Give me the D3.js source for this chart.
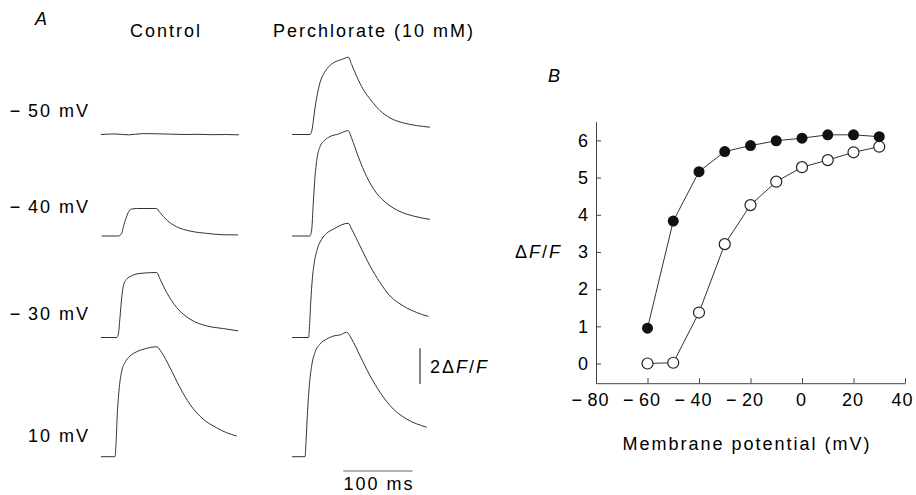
<!DOCTYPE html>
<html>
<head>
<meta charset="utf-8">
<script src="https://cdn.jsdelivr.net/npm/d3@7"></script>
<style>
  body { margin: 0; background: #fff; }
  svg { display: block; font-family: "Liberation Sans", Arial, sans-serif; }
  svg text { letter-spacing: 2px; fill: #000; }
  .axis path, .axis line { stroke: #444; stroke-width: 1; }
  .axis text { font-size: 18px; fill: #000; font-family: "Liberation Sans", Arial, sans-serif; letter-spacing: 1px; }
</style>
</head>
<body>
<div id="chart"></div>
<script>
var w = 916;
var h = 495;

// Panel B: peak dF/F vs membrane potential
var voltages = [-60, -50, -40, -30, -20, -10, 0, 10, 20, 30];
var perchlorateDF = [0.95, 3.83, 5.16, 5.70, 5.86, 5.99, 6.06, 6.15, 6.15, 6.10];
var controlDF = [0.0, 0.02, 1.37, 3.21, 4.26, 4.89, 5.28, 5.47, 5.68, 5.83];
var xTicks = [-80, -60, -40, -20, 0, 20, 40];
var yTicks = [0, 1, 2, 3, 4, 5, 6];

// Panel A: fluorescence traces, [time (ms), dF/F]
var rowLabels = ["\u2212\u200950 mV", "\u2212\u200940 mV", "\u2212\u200930 mV", "10 mV"];
var controlTraces = [
  [[0,0],[20,0.03],[40,-0.02],[60,0.05],[80,0.04],[100,0.02],[120,0],[140,0.01],[160,-0.01],[180,0],[199,-0.02]],
  [[1,0],[25,0],[30,0.15],[32.3,0.52],[36.1,0.99],[39.4,1.32],[44.2,1.51],[51.4,1.54],[80.2,1.54],[85,1.32],[94.7,0.9],[109,0.52],[128.3,0.28],[152.4,0.15],[176.3,0.07],[198,0.06]],
  [[0,0],[22.7,0],[25,0.19],[27.4,1.12],[29.9,2.24],[32.3,2.9],[37.1,3.27],[44.3,3.46],[56.3,3.59],[80.4,3.64],[85.2,3.27],[94.8,2.52],[109.2,1.68],[128.4,1.03],[152.5,0.65],[176.5,0.5],[198.1,0.37]],
  [[0,0],[20.2,0],[21.6,0.69],[23.5,2.37],[26.4,3.87],[29.9,4.8],[34.6,5.27],[41.8,5.64],[51.5,5.88],[65.9,6.07],[80.4,6.16],[87.6,5.83],[99.6,4.99],[114,3.87],[128.4,2.93],[147.6,2.1],[166.9,1.62],[181.4,1.34],[195.8,1.16]]
];
var perchlorateTraces = [
  [[0,0],[25.9,0],[28.4,0.18],[30.7,0.74],[33.2,1.5],[36.5,2.24],[40.4,2.9],[45.2,3.36],[52.4,3.77],[62.1,4.07],[71.7,4.2],[81.3,4.33],[86.1,3.92],[93.3,3.26],[102.9,2.52],[115,1.87],[127,1.34],[141.4,0.93],[160.6,0.65],[179.9,0.5],[199.1,0.41]],
  [[0,0],[25.9,0],[28.4,0.34],[30.7,1.83],[33.2,3.32],[36.5,4.44],[40.4,5.0],[47.6,5.38],[54.8,5.57],[66.8,5.71],[81.2,5.9],[86.1,5.47],[95.7,4.44],[107.8,3.32],[122.2,2.39],[136.7,1.83],[155.8,1.37],[175.1,1.12],[199.1,0.93]],
  [[0,0],[24,0],[25,0.46],[27,1.96],[29.3,3.27],[32.2,4.2],[36.5,4.95],[42.9,5.51],[50.1,5.84],[59.6,6.07],[81.2,6.4],[86.1,6.07],[98.1,5.13],[112.6,4.01],[127,3.08],[141.4,2.33],[160.6,1.77],[180,1.4],[196.8,1.18]],
  [[0,0],[18.8,0],[20.2,0.81],[22.1,2.3],[25,3.98],[28.4,5.1],[33.2,5.85],[40.4,6.31],[50.1,6.59],[62,6.78],[69.3,6.82],[78.9,6.97],[86.1,6.59],[98.1,5.66],[112.6,4.54],[127,3.61],[146.2,2.67],[165.5,2.11],[194.4,1.65]]
];

var svg = d3.select("#chart")
            .append("svg")
                .attr("width", w)
                .attr("height", h);

svg.append("rect").attr("width", w).attr("height", h).attr("fill", "#fff");

// ---------- Panel A ----------
var rowBase = [134.5, 236, 337.5, 456.7];
var colX = [101, 292];

var tScale = d3.scaleLinear().domain([0, 100]).range([0, 69.3]);
var fScale = d3.scaleLinear().domain([0, 1]).range([0, -17.85]);

var traceLine = d3.line()
    .x(function(d) { return tScale(d[0]); })
    .y(function(d) { return fScale(d[1]); })
    .curve(d3.curveMonotoneX);

[controlTraces, perchlorateTraces].forEach(function(col, ci) {
    col.forEach(function(tr, ri) {
        svg.append("path")
            .attr("transform", "translate(" + colX[ci] + "," + rowBase[ri] + ")")
            .attr("d", traceLine(tr))
            .attr("fill", "none")
            .attr("stroke", "#333")
            .attr("stroke-width", 1);
    });
});

svg.append("text").attr("x", 35).attr("y", 25)
    .attr("font-size", 18).attr("font-style", "italic").text("A");
svg.append("text").attr("x", 166).attr("y", 37)
    .attr("font-size", 18).attr("text-anchor", "middle").text("Control");
svg.append("text").attr("x", 374).attr("y", 37)
    .attr("font-size", 18).attr("text-anchor", "middle").text("Perchlorate (10 mM)");

var labelBase = [116.7, 213, 320, 441.7];
rowLabels.forEach(function(t, i) {
    svg.append("text").attr("x", 90).attr("y", labelBase[i])
        .attr("font-size", 18).attr("text-anchor", "end").text(t);
});

// scale bars
var barX = 420, barY = 384;
svg.append("line")
    .attr("x1", barX).attr("x2", barX)
    .attr("y1", barY).attr("y2", barY + fScale(2))
    .attr("stroke", "#333").attr("stroke-width", 1.2);
var sb = svg.append("text").attr("x", 430).attr("y", 373.3).attr("font-size", 18);
sb.append("tspan").text("2\u0394");
sb.append("tspan").attr("font-style", "italic").text("F");
sb.append("tspan").text("/");
sb.append("tspan").attr("font-style", "italic").text("F");

var tbX = 343.3, tbY = 471;
svg.append("line")
    .attr("x1", tbX).attr("x2", tbX + tScale(100))
    .attr("y1", tbY).attr("y2", tbY)
    .attr("stroke", "#666").attr("stroke-width", 1);
svg.append("text").attr("x", tbX + tScale(100) / 2 + 1).attr("y", 490)
    .attr("font-size", 18).attr("text-anchor", "middle").text("100 ms");

// ---------- Panel B ----------
var x = d3.scaleLinear().domain([-80, 40]).range([596, 905]);
var y = d3.scaleLinear().domain([-0.53, 6.5]).range([383.2, 121.8]);

function fmt(d) { return d < 0 ? "\u2212\u2009" + Math.abs(d) : String(d); }

var gx = svg.append("g").attr("class", "axis")
    .attr("transform", "translate(0," + y(-0.53) + ")")
    .call(d3.axisBottom(x).tickValues(xTicks).tickSizeInner(-5).tickSizeOuter(0)
        .tickPadding(10).tickFormat(fmt));
gx.selectAll(".tick text")
    .attr("dx", function(d) { return d < 0 ? -6 : (d == 40 ? -3 : -1); });

svg.append("g").attr("class", "axis")
    .attr("transform", "translate(" + x(-80) + ",0)")
    .call(d3.axisLeft(y).tickValues(yTicks).tickSizeInner(-5).tickSizeOuter(0)
        .tickPadding(7).tickFormat(fmt));

var line = d3.line()
    .x(function(d, i) { return x(voltages[i]); })
    .y(function(d) { return y(d); });

svg.append("path").attr("d", line(perchlorateDF))
    .attr("fill", "none").attr("stroke", "#333").attr("stroke-width", 1);
svg.append("path").attr("d", line(controlDF))
    .attr("fill", "none").attr("stroke", "#333").attr("stroke-width", 1);

svg.selectAll("circle.ctl")
    .data(controlDF)
    .enter()
        .append("circle")
            .attr("class", "ctl")
            .attr("cx", function(d, i) { return x(voltages[i]); })
            .attr("cy", function(d) { return y(d); })
            .attr("r", 5.5)
            .attr("fill", "#fff")
            .attr("stroke", "#222")
            .attr("stroke-width", 1.2);

svg.selectAll("circle.per")
    .data(perchlorateDF)
    .enter()
        .append("circle")
            .attr("class", "per")
            .attr("cx", function(d, i) { return x(voltages[i]); })
            .attr("cy", function(d) { return y(d); })
            .attr("r", 5.5)
            .attr("fill", "#111");

svg.append("text").attr("x", 548).attr("y", 82)
    .attr("font-size", 18).attr("font-style", "italic").text("B");

var yl = svg.append("text").attr("x", 515).attr("y", 258.3).attr("font-size", 18);
yl.append("tspan").text("\u0394");
yl.append("tspan").attr("font-style", "italic").text("F");
yl.append("tspan").text("/");
yl.append("tspan").attr("font-style", "italic").text("F");

svg.append("text").attr("x", 747).attr("y", 450)
    .attr("font-size", 18).attr("text-anchor", "middle")
    .text("Membrane potential (mV)");
</script>
</body>
</html>
